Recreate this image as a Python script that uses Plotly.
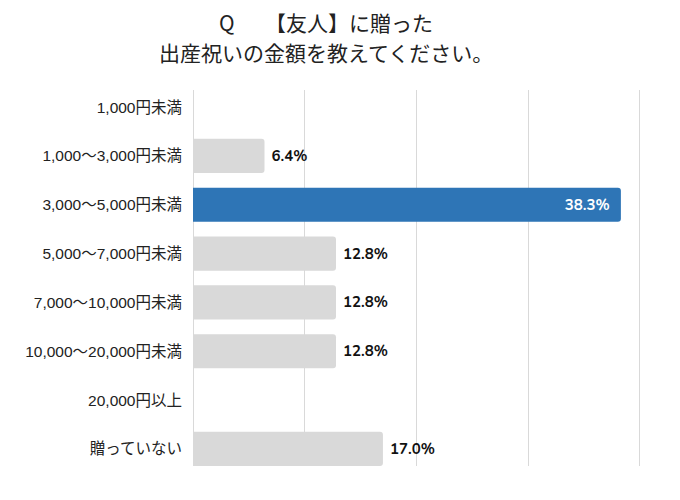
import plotly.graph_objects as go

categories = ["1,000円未満", "1,000～3,000円未満", "3,000～5,000円未満", "5,000～7,000円未満",
              "7,000～10,000円未満", "10,000～20,000円未満", "20,000円以上", "贈っていない"]
values = [0.0, 6.4, 38.3, 12.8, 12.8, 12.8, 0.0, 17.0]
highlight = "3,000～5,000円未満"
title_lines = ["Q\u3000\u00a0\u00a0【友人】に贈った", "出産祝いの金額を教えてください。"]

colors = ["#2e75b6" if c == highlight else "#d9d9d9" for c in categories]
labels = []
for c, v in zip(categories, values):
    if v <= 0:
        labels.append("")
    elif c == highlight:
        labels.append(f"{v:.1f}%\u00a0\u00a0")
    else:
        labels.append(f"\u00a0{v:.1f}%")
positions = ["inside" if c == highlight else "outside" for c in categories]
text_colors = ["#ffffff" if c == highlight else "#111111" for c in categories]

W, H = 680, 500
L, R, T, B = 193, 39, 90, 34
pw, ph = W - L - R, H - T - B

fig = go.Figure(go.Bar(
    x=values, y=categories, orientation="h",
    marker=dict(color=colors, line=dict(width=0)),
    text=labels, textposition=positions,
    insidetextanchor="end",
    textfont=dict(family="Nunito, Lato, 'Noto Sans', sans-serif", size=15, color=text_colors, weight="bold"),
    cliponaxis=False,
    width=0.7,
    hoverinfo="skip",
))

title_y = [22, 52]
for line, ypx in zip(title_lines, title_y):
    fig.add_annotation(
        text=line, xref="paper", yref="paper",
        x=(326 - L) / pw, y=1 + (T - ypx) / ph,
        xanchor="center", yanchor="middle", showarrow=False, borderpad=0,
        font=dict(family="'Noto Sans CJK JP', sans-serif", size=21, color="#222222"),
    )

fig.update_layout(
    width=W, height=H,
    margin=dict(l=L, r=R, t=T, b=B, autoexpand=False),
    paper_bgcolor="white", plot_bgcolor="white",
    barcornerradius=3,
    showlegend=False,
    font=dict(family="'Noto Sans CJK JP', sans-serif", color="#222222"),
)
fig.update_xaxes(range=[0, 40.1], tickvals=[0, 10, 20, 30, 40], showgrid=True, gridcolor="#d9d9d9", gridwidth=1,
                 showticklabels=False, zeroline=True, zerolinecolor="#d9d9d9", zerolinewidth=1,
                 showline=False, fixedrange=True, automargin=False)
fig.update_yaxes(categoryorder="array", categoryarray=categories, autorange=False,
                 range=[7.35, -0.35], showgrid=False, showline=False, automargin=False,
                 tickfont=dict(family="'Liberation Sans', Arial, 'Noto Sans CJK JP', sans-serif", size=15.5, color="#222222"),
                 ticklabelstandoff=10)

fig.write_html("out.html", config={"displayModeBar": False},
               post_script="document.body.style.margin='0';document.body.style.overflow='hidden';")
